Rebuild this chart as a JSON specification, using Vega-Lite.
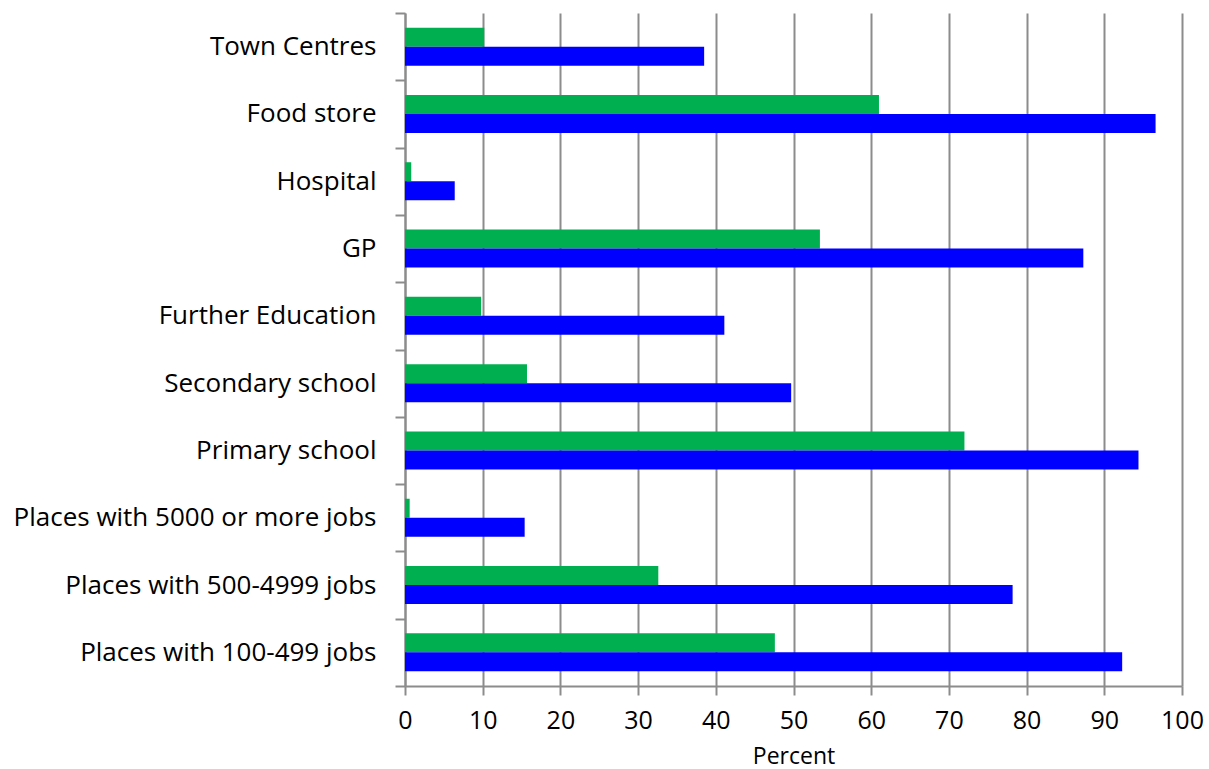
{
  "$schema": "https://vega.github.io/schema/vega-lite/v6.json",
  "autosize": "none",
  "padding": {"left": 405, "top": 13, "right": 27, "bottom": 83},
  "width": 777,
  "height": 673,
  "background": "white",
  "config": {"view": {"stroke": null}, "font": "Open Sans"},
  "data": {"values": [
    {"cat": "Town Centres", "series": "Green", "value": 10.2},
    {"cat": "Town Centres", "series": "Blue", "value": 38.5},
    {"cat": "Food store", "series": "Green", "value": 61.0},
    {"cat": "Food store", "series": "Blue", "value": 96.6},
    {"cat": "Hospital", "series": "Green", "value": 0.8},
    {"cat": "Hospital", "series": "Blue", "value": 6.4},
    {"cat": "GP", "series": "Green", "value": 53.4},
    {"cat": "GP", "series": "Blue", "value": 87.3},
    {"cat": "Further Education", "series": "Green", "value": 9.8},
    {"cat": "Further Education", "series": "Blue", "value": 41.1},
    {"cat": "Secondary school", "series": "Green", "value": 15.7},
    {"cat": "Secondary school", "series": "Blue", "value": 49.7},
    {"cat": "Primary school", "series": "Green", "value": 72.0},
    {"cat": "Primary school", "series": "Blue", "value": 94.4},
    {"cat": "Places with 5000 or more jobs", "series": "Green", "value": 0.6},
    {"cat": "Places with 5000 or more jobs", "series": "Blue", "value": 15.4},
    {"cat": "Places with 500-4999 jobs", "series": "Green", "value": 32.6},
    {"cat": "Places with 500-4999 jobs", "series": "Blue", "value": 78.2},
    {"cat": "Places with 100-499 jobs", "series": "Green", "value": 47.6},
    {"cat": "Places with 100-499 jobs", "series": "Blue", "value": 92.3}
  ]},
  "mark": {"type": "bar"},
  "encoding": {
    "y": {
      "field": "cat", "type": "nominal",
      "sort": ["Town Centres", "Food store", "Hospital", "GP", "Further Education", "Secondary school", "Primary school", "Places with 5000 or more jobs", "Places with 500-4999 jobs", "Places with 100-499 jobs"],
      "scale": {"paddingInner": 0, "paddingOuter": 0},
      "axis": {
        "title": null,
        "tickBand": "extent",
        "tickSize": 10,
        "tickColor": "#8c8c8c",
        "tickWidth": 2,
        "domainColor": "#8c8c8c",
        "domainWidth": 2,
        "labelFontSize": 26,
        "labelColor": "#000000",
        "labelPadding": 19,
        "labelFont": "Open Sans",
        "labelLimit": 500
      }
    },
    "yOffset": {
      "field": "series", "type": "nominal",
      "sort": ["Green", "Blue"],
      "scale": {"paddingInner": 0, "paddingOuter": 0.77}
    },
    "x": {
      "field": "value", "type": "quantitative",
      "scale": {"domain": [0, 100], "nice": false},
      "axis": {
        "title": "Percent",
        "titleFontSize": 23,
        "titleFontWeight": "normal",
        "titleColor": "#000000",
        "titleFont": "Open Sans",
        "titlePadding": 12,
        "values": [0, 10, 20, 30, 40, 50, 60, 70, 80, 90, 100],
        "grid": true,
        "gridColor": "#8c8c8c",
        "gridWidth": 2,
        "tickSize": 9,
        "tickColor": "#8c8c8c",
        "tickWidth": 2,
        "domainColor": "#8c8c8c",
        "domainWidth": 2,
        "labelFontSize": 25,
        "labelColor": "#000000",
        "labelPadding": 13,
        "labelFlush": false,
        "labelOverlap": false,
        "labelFont": "Open Sans"
      }
    },
    "color": {
      "field": "series", "type": "nominal",
      "scale": {"domain": ["Green", "Blue"], "range": ["#00B050", "#0000FF"]},
      "legend": null
    }
  }
}
